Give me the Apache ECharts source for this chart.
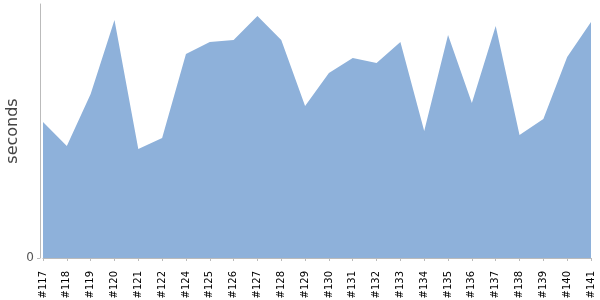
<!DOCTYPE html>
<html>
<head>
<meta charset="utf-8">
<script src="https://cdn.jsdelivr.net/npm/echarts@6/dist/echarts.min.js"></script>
<style>html,body{margin:0;padding:0;background:#fff}#c{width:600px;height:300px}</style>
</head>
<body>
<div id="c"></div>
<script>
var categories = ['#117','#118','#119','#120','#121','#122','#124','#125','#126','#127','#128','#129','#130','#131','#132','#133','#134','#135','#136','#137','#138','#139','#140','#141'];
var seconds = [136,112,164,238,109,120,204,216,218,242,218,152,185,200,195,216,127,223,155,232,123,139,201,236];
var yTicks = [0];
var yMax = 254;

var chart = echarts.init(document.getElementById('c'), null, {renderer: 'canvas'});
chart.setOption({
  animation: false,
  grid: {left: 43, right: 9, top: 4, bottom: 42, containLabel: false, outerBoundsMode: 'none'},
  xAxis: {
    type: 'category',
    data: categories,
    boundaryGap: false,
    offset: 5,
    axisLine: {lineStyle: {color: '#bbbbbb', width: 1}},
    axisTick: {alignWithLabel: true, length: 3, lineStyle: {color: '#bbbbbb'}},
    axisLabel: {rotate: 90, interval: 0, margin: 8, color: '#000', fontSize: 10, fontFamily: 'DejaVu Sans'},
    splitLine: {show: false}
  },
  yAxis: {
    type: 'value',
    min: 0,
    max: yMax,
    offset: 3,
    name: 'seconds',
    nameLocation: 'middle',
    nameGap: 19,
    nameMoveOverlap: false,
    nameTextStyle: {color: '#444', fontSize: 16, fontFamily: 'DejaVu Sans'},
    axisLine: {show: true, lineStyle: {color: '#bbbbbb', width: 1}},
    axisTick: {show: true, length: 3, customValues: yTicks, lineStyle: {color: '#bbbbbb'}},
    axisLabel: {customValues: yTicks, color: '#555', fontSize: 12, margin: 6, fontFamily: 'DejaVu Sans'},
    splitLine: {show: false}
  },
  series: [{
    type: 'line',
    data: seconds,
    symbol: 'none',
    lineStyle: {width: 0},
    areaStyle: {color: '#8eb1da', opacity: 1}
  }]
});
</script>
</body>
</html>
